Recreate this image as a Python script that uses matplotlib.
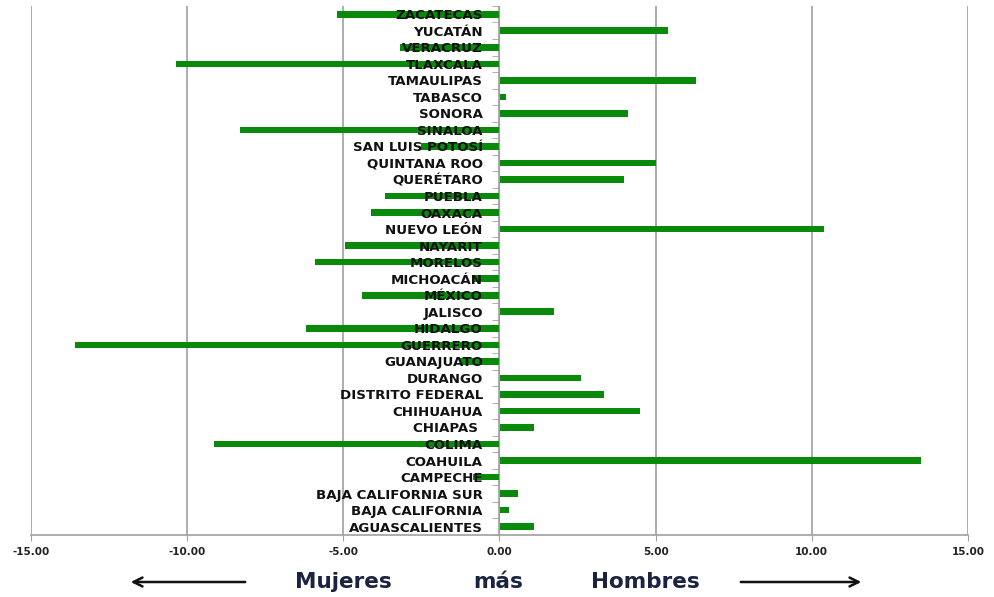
import matplotlib.pyplot as plt
import numpy as np

# estados, de abajo hacia arriba
estados = ['AGUASCALIENTES', 'BAJA CALIFORNIA', 'BAJA CALIFORNIA SUR', 'CAMPECHE',
           'COAHUILA', 'COLIMA', 'CHIAPAS ', 'CHIHUAHUA', 'DISTRITO FEDERAL',
           'DURANGO', 'GUANAJUATO', 'GUERRERO', 'HIDALGO', 'JALISCO', 'MÉXICO',
           'MICHOACÁN', 'MORELOS', 'NAYARIT', 'NUEVO LEÓN', 'OAXACA', 'PUEBLA',
           'QUERÉTARO', 'QUINTANA ROO', 'SAN LUIS POTOSÍ', 'SINALOA', 'SONORA',
           'TABASCO', 'TAMAULIPAS', 'TLAXCALA', 'VERACRUZ', 'YUCATÁN', 'ZACATECAS']
valores = [1.1, 0.3, 0.6, -0.85, 13.5, -9.15, 1.1, 4.5, 3.35, 2.6, -1.25, -13.6,
           -6.2, 1.75, -4.4, -0.85, -5.9, -4.95, 10.4, -4.1, -3.65, 4.0, 5.0, -2.5,
           -8.3, 4.1, 0.2, 6.3, -10.35, -3.2, 5.4, -5.2]
xticks = [-15, -10, -5, 0, 5, 10, 15]

fig = plt.figure(figsize=(9.94, 5.97), dpi=100)
ax = fig.add_axes([0.0312, 0.104, 0.9426, 0.886])

y = np.arange(len(estados))
for xv in xticks:
    ax.axvline(xv, color='#a0a0a0', linewidth=1.2, zorder=0)
ax.barh(y, valores, height=0.4, color='#0a8a0a', zorder=1)

ax.set_xlim(-15, 15)
ax.set_ylim(-0.5, len(estados) - 0.5)
ax.set_xticks(xticks)
ax.set_xticklabels(['%.2f' % v for v in xticks], fontsize=7.5, fontweight='bold',
                   color='#222222', family='DejaVu Sans')
ax.tick_params(axis='x', length=4, color='#a0a0a0', pad=5)

# eje vertical en el cero, etiquetas junto al eje
ax.spines['left'].set_position(('data', 0))
ax.spines['left'].set_color('#a0a0a0')
ax.spines['bottom'].set_color('#a0a0a0')
ax.spines['bottom'].set_linewidth(1.2)
ax.spines['top'].set_visible(False)
ax.spines['right'].set_visible(False)
ax.set_yticks(y)
ax.set_yticklabels(estados, fontsize=9.6, fontweight='bold', color='#111111',
                   family='DejaVu Sans')
ax.set_yticks(np.arange(len(estados) + 1) - 0.5, minor=True)
ax.tick_params(axis='y', which='major', length=0, pad=12)
ax.tick_params(axis='y', which='minor', length=5, color='#a0a0a0', direction='out')

# leyenda inferior
col = '#1a2340'
ty = 1 - 582 / 597
fig.text(343 / 994, ty, 'Mujeres', ha='center', va='center',
         fontsize=15.5, color=col, family='DejaVu Sans', fontweight='bold')
fig.text(498 / 994, ty, 'más', ha='center', va='center',
         fontsize=15.5, color=col, family='DejaVu Sans', fontweight='bold')
fig.text(645 / 994, ty, 'Hombres', ha='center', va='center',
         fontsize=15.5, color=col, family='DejaVu Sans', fontweight='bold')
fig.add_artist(plt.Annotation('', xy=(128 / 994, ty), xytext=(248 / 994, ty),
                              xycoords='figure fraction', textcoords='figure fraction',
                              arrowprops=dict(arrowstyle='->', color='#111111', lw=1.8,
                                              mutation_scale=16)))
fig.add_artist(plt.Annotation('', xy=(864 / 994, ty), xytext=(738 / 994, ty),
                              xycoords='figure fraction', textcoords='figure fraction',
                              arrowprops=dict(arrowstyle='->', color='#111111', lw=1.8,
                                              mutation_scale=16)))

plt.savefig('out.png', dpi=100)
plt.close()
